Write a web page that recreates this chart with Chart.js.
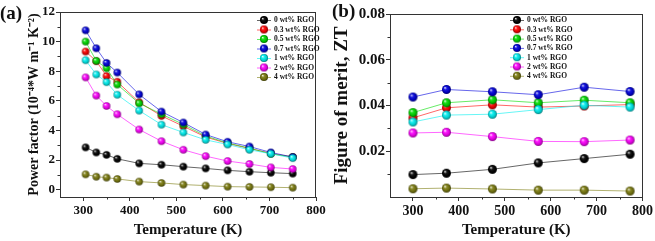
<!DOCTYPE html>
<html><head><meta charset="utf-8">
<script src="https://cdn.jsdelivr.net/npm/chart.js@4/dist/chart.umd.min.js"></script>
<style>
html,body{margin:0;padding:0;background:#fff;width:655px;height:241px;overflow:hidden;}
#wa{position:absolute;left:0;top:0;width:330px;height:241px;}
#wb{position:absolute;left:330px;top:0;width:325px;height:241px;}
.lab{position:absolute;font-family:"Liberation Serif";font-weight:bold;font-size:19px;color:#111;line-height:1;}
</style></head><body>
<div id="wa"><canvas id="ca" width="330" height="241"></canvas></div>
<div id="wb"><canvas id="cb" width="325" height="241"></canvas></div>
<div class="lab" style="left:0px;top:3px">(a)</div>
<div class="lab" style="left:332px;top:1px">(b)</div>
<script>
// ---------- data ----------
const seriesLabels = ['0 wt% RGO', '0.3 wt% RGO', '0.5 wt% RGO', '0.7 wt% RGO', '1 wt% RGO', '2 wt% RGO', '4 wt% RGO'];
const seriesColors = ['#000000', '#ff0000', '#00dd00', '#0000dd', '#00f0f0', '#ff00ff', '#7d7d10'];

const tempA = [305, 328, 350, 373, 420, 468, 515, 563, 610, 657, 703, 750];
const pf0  = [2.85, 2.51, 2.35, 2.08, 1.77, 1.68, 1.55, 1.43, 1.30, 1.21, 1.14, 1.08];
const pf03 = [9.33, 8.68, 7.67, 7.29, 5.90, 4.98, 4.28, 3.55, 3.12, 2.78, 2.45, 2.20];
const pf05 = [10.0, 8.70, 8.20, 7.10, 5.83, 5.10, 4.40, 3.62, 3.15, 2.80, 2.42, 2.20];
const pf07 = [10.76, 9.55, 8.56, 7.91, 6.43, 5.27, 4.53, 3.72, 3.23, 2.91, 2.51, 2.20];
const pf1  = [8.74, 7.78, 7.26, 6.41, 5.34, 4.39, 3.86, 3.36, 3.05, 2.69, 2.42, 2.13];
const pf2  = [7.58, 6.35, 5.65, 5.09, 4.06, 3.27, 2.69, 2.26, 1.93, 1.73, 1.50, 1.39];
const pf4  = [1.03, 0.87, 0.81, 0.72, 0.54, 0.45, 0.34, 0.27, 0.20, 0.18, 0.16, 0.13];

const tempB = [300, 373, 473, 573, 673, 773];
const zt0  = [0.0098, 0.0104, 0.0121, 0.0149, 0.0168, 0.0187];
const zt03 = [0.0346, 0.0390, 0.0403, 0.0393, 0.0398, 0.0404];
const zt05 = [0.0369, 0.0412, 0.0425, 0.0412, 0.0423, 0.0412];
const zt07 = [0.0437, 0.0470, 0.0460, 0.0447, 0.0480, 0.0461];
const zt1  = [0.0328, 0.0358, 0.0362, 0.0382, 0.0401, 0.0393];
const zt2  = [0.0280, 0.0283, 0.0264, 0.0243, 0.0242, 0.0249];
const zt4  = [0.0036, 0.0039, 0.0035, 0.0030, 0.0030, 0.0026];

const xTicks = [300, 400, 500, 600, 700, 800];
const xMinor = [350, 450, 550, 650, 750];
const yTicksA = [0, 2, 4, 6, 8, 10, 12];
const yMinorA = [1, 3, 5, 7, 9, 11];
const yTicksB = [0.02, 0.04, 0.06, 0.08];
const yMinorB = [0.01, 0.03, 0.05, 0.07];

const titleXA = 'Temperature (K)';
const titleYA = 'Power factor (10\u207B\u2074*W m\u207B\u00B9 K\u207B\u00B2)';
const titleXB = 'Temperature (K)';
const titleYB = 'Figure of merit, ZT';

// ---------- helpers ----------
const F = '"Liberation Serif", "Times New Roman", serif';
function hexRgb(h){h=h.replace('#','');return [0,2,4].map(i=>parseInt(h.substr(i,2),16));}
function mix(c, t, a){return 'rgb('+c.map((v,i)=>Math.round(v+(t[i]-v)*a)).join(',')+')';}
function rgba(h,a){const c=hexRgb(h);return 'rgba('+c.join(',')+','+a+')';}
function sphere(hex, d){
  const s = Math.ceil(d)+2;
  const c = document.createElement('canvas'); c.width = s; c.height = s;
  const g = c.getContext('2d'); const r = d/2, cx = s/2, cy = s/2;
  const col = hexRgb(hex);
  const grad = g.createRadialGradient(cx - r*0.35, cy - r*0.4, r*0.05, cx, cy, r*1.05);
  grad.addColorStop(0, mix(col,[255,255,255],0.85));
  grad.addColorStop(0.3, mix(col,[255,255,255],0.1));
  grad.addColorStop(0.7, mix(col,[0,0,0],0.15));
  grad.addColorStop(1, mix(col,[0,0,0],0.55));
  g.beginPath(); g.arc(cx, cy, r, 0, Math.PI*2); g.fillStyle = grad; g.fill();
  return c;
}

const frame = {
  id: 'frame',
  afterDraw(chart, args, o){
    const {ctx, chartArea: a, scales} = chart;
    ctx.save();
    ctx.strokeStyle = '#333'; ctx.lineWidth = 1;
    ctx.strokeRect(Math.round(a.left)+0.5, Math.round(a.top)+0.5, Math.round(a.right-a.left)-1, Math.round(a.bottom-a.top));
    // minor ticks
    ctx.beginPath();
    (o.xMinor||[]).forEach(v=>{const x=Math.round(scales.x.getPixelForValue(v))+0.5; ctx.moveTo(x, a.bottom); ctx.lineTo(x, a.bottom+2.5);});
    (o.yMinor||[]).forEach(v=>{const y=Math.round(scales.y.getPixelForValue(v))+0.5; ctx.moveTo(a.left, y); ctx.lineTo(a.left-2.5, y);});
    ctx.stroke();
    // legend
    const L = o.legend;
    if (L) {
      ctx.font = 'bold ' + L.size + 'px ' + F;
      ctx.textBaseline = 'middle'; ctx.textAlign = 'left'; ctx.fillStyle = '#111';
      chart.data.datasets.forEach((ds, i)=>{
        const y = L.y + i*L.dy;
        ctx.strokeStyle = ds.borderColor; ctx.lineWidth = 1;
        ctx.beginPath(); ctx.moveTo(L.x - 7, y+0.5); ctx.lineTo(L.x + 7, y+0.5); ctx.stroke();
        const img = ds.legendImg;
        ctx.drawImage(img, L.x - img.width/2, y - img.height/2);
        ctx.fillText(ds.label, L.x + 10, y + 0.5);
      });
    }
    ctx.restore();
  }
};

function makeDatasets(xs, ys, dPoint, dLeg){
  return ys.map((arr, i)=>({
    label: seriesLabels[i],
    data: arr.map((v, j)=>({x: xs[j], y: v})),
    borderColor: rgba(seriesColors[i], 0.6),
    borderWidth: 1,
    pointStyle: sphere(seriesColors[i], dPoint),
    legendImg: sphere(seriesColors[i], dLeg),
    pointRadius: 4,
    order: ys.length - i,
    tension: 0,
    clip: false
  }));
}

function axisCfg(o){
  return {
    type: 'linear', min: o.min, max: o.max,
    afterBuildTicks: s => { s.ticks = o.ticks.map(v => ({value: v})); },
    afterFit: s => { if (o.w) s.width = o.w; if (o.h) s.height = o.h; },
    ticks: {font: {family: F, size: o.ts, weight: 'bold'}, color: '#111', padding: o.tp, maxRotation: 0, autoSkip: false,
            callback: v => o.fmt ? o.fmt(v) : v},
    grid: {drawOnChartArea: false, tickLength: 4, color: '#333', tickWidth: 1},
    border: {display: true, color: '#333', width: 1},
    title: {display: true, text: o.title, font: {family: F, size: o.fs, weight: 'bold'}, color: '#111', padding: o.pad}
  };
}

new Chart(document.getElementById('ca'), {
  type: 'line',
  data: {datasets: makeDatasets(tempA, [pf0, pf03, pf05, pf07, pf1, pf2, pf4], 7.5, 8)},
  options: {
    responsive: false, animation: false, events: [],
    layout: {padding: {left: 0, right: 14, top: 12, bottom: 0}},
    plugins: {legend: {display: false}, tooltip: {enabled: false},
      frame: {xMinor: xMinor, yMinor: yMinorA, legend: {x: 264, y: 20, dy: 9.5, size: 7.5}}},
    scales: {
      x: axisCfg({min: 250, max: 800, ticks: xTicks, h: 44, ts: 13, tp: 2, title: titleXA, fs: 15, pad: {top: 0, bottom: 2}}),
      y: axisCfg({min: -0.5, max: 12, ticks: yTicksA, w: 60, ts: 13, tp: 1, title: titleYA, fs: 14, pad: {top: 26, bottom: 0}})
    }
  },
  plugins: [frame]
});

new Chart(document.getElementById('cb'), {
  type: 'line',
  data: {datasets: makeDatasets(tempB, [zt0, zt03, zt05, zt07, zt1, zt2, zt4], 9, 8)},
  options: {
    responsive: false, animation: false, events: [],
    layout: {padding: {left: 0, right: 12, top: 14, bottom: 0}},
    plugins: {legend: {display: false}, tooltip: {enabled: false},
      frame: {xMinor: xMinor, yMinor: yMinorB, legend: {x: 187, y: 20, dy: 9.3, size: 7.5}}},
    scales: {
      x: axisCfg({min: 250, max: 800, ticks: xTicks, h: 44, ts: 14, tp: 2, title: titleXB, fs: 15, pad: {top: 0, bottom: 2}}),
      y: axisCfg({min: 0, max: 0.08, ticks: yTicksB, w: 60, ts: 15, tp: 1, title: titleYB, fs: 19, pad: {top: 1, bottom: 0},
                  fmt: v => v.toFixed(2)})
    }
  },
  plugins: [frame]
});
</script>
</body></html>
